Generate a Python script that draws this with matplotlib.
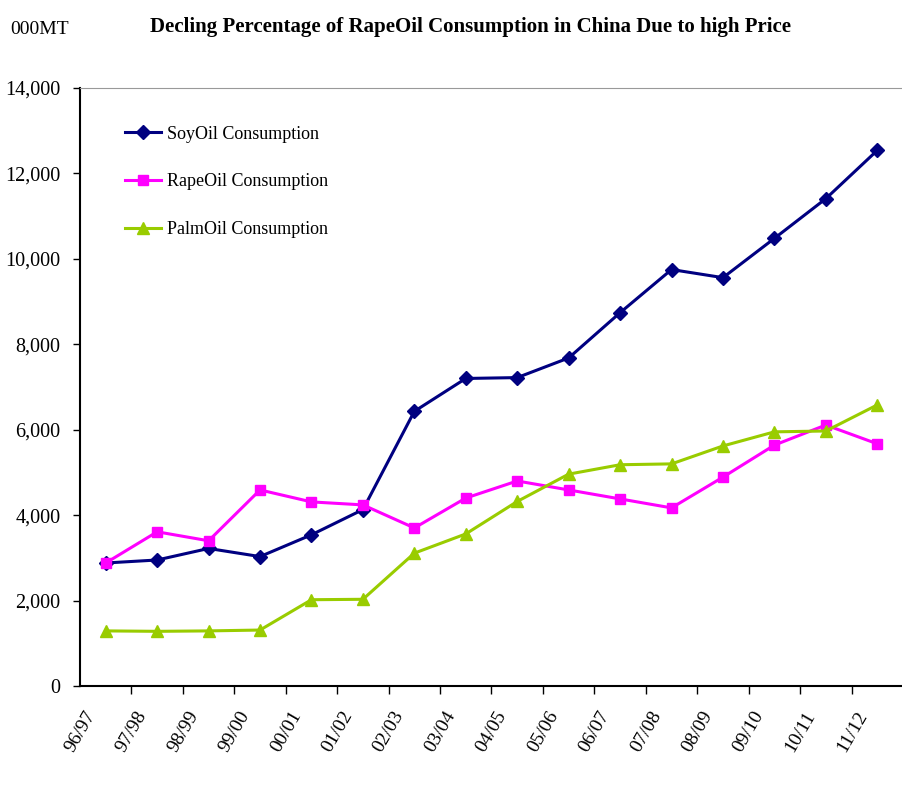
import numpy as np
import matplotlib
matplotlib.use("Agg")
import matplotlib.pyplot as plt
import matplotlib.transforms as mtransforms
from matplotlib.ticker import FuncFormatter

# crop years (x categories)
years = ['96/97', '97/98', '98/99', '99/00', '00/01', '01/02', '02/03', '03/04',
         '04/05', '05/06', '06/07', '07/08', '08/09', '09/10', '10/11', '11/12']

# consumption, 000 MT
soy = [2880, 2950, 3220, 3030, 3540, 4130, 6430, 7200, 7220, 7680, 8740, 9750,
       9560, 10480, 11410, 12540]
rape = [2880, 3610, 3400, 4590, 4310, 4240, 3700, 4400, 4800, 4590, 4380, 4170,
        4890, 5640, 6110, 5670]
palm = [1290, 1280, 1290, 1310, 2020, 2030, 3110, 3560, 4320, 4960, 5180, 5200,
        5620, 5950, 5970, 6580]

plt.rcParams['font.family'] = ['Liberation Serif', 'DejaVu Serif']

fig = plt.figure(figsize=(9.03, 7.85), dpi=100)
ax = fig.add_axes([80/903, 1 - 686/785, 1 - 80/903, (686 - 88)/785])

x = np.arange(len(years))
ax.plot(x, soy, color='#000080', lw=2.2, marker='D', ms=7.5, label='SoyOil Consumption')
ax.plot(x, rape, color='#FF00FF', lw=2.2, marker='s', ms=7.5, label='RapeOil Consumption')
ax.plot(x, palm, color='#99CC00', lw=2.2, marker='^', ms=8.5, label='PalmOil Consumption')

ax.set_xlim(-0.5, len(years) - 0.5)
ax.set_ylim(0, 14000)
ax.set_yticks(np.arange(0, 14001, 2000))
ax.yaxis.set_major_formatter(FuncFormatter(lambda v, p: f'{int(v):,}'))
ax.tick_params(axis='y', direction='out', length=5, width=1, labelsize=14.5, pad=9)

# tick marks at category boundaries, labels at category centers
ax.set_xticks(np.arange(0.5, len(years) - 0.5, 1))
ax.set_xticklabels([])
ax.tick_params(axis='x', which='major', direction='out', length=6, width=1)
ax.set_xticks(x, minor=True)
ax.set_xticklabels(years, minor=True, rotation=60, ha='right', va='top', fontsize=14)
ax.tick_params(axis='x', which='minor', length=0, pad=16)
offset = mtransforms.ScaledTranslation(-7/100, 0, fig.dpi_scale_trans)
for lab in ax.get_xticklabels(minor=True):
    lab.set_transform(lab.get_transform() + offset)

ax.spines['top'].set_color('#999999')
ax.spines['right'].set_visible(False)
ax.spines['left'].set_linewidth(1.5)
ax.spines['bottom'].set_linewidth(1.5)

ax.legend(loc='upper left', bbox_to_anchor=(0.055, 0.937), frameon=False, fontsize=13,
          handlelength=2, handletextpad=0.3, labelspacing=1.7, borderpad=0,
          borderaxespad=0)

fig.text(471/903, 1 - 27/785, 'Decling Percentage of RapeOil Consumption in China Due to high Price',
         ha='center', va='center', fontsize=15, fontweight='bold')
fig.text(10/903, 1 - 30/785, '000MT', ha='left', va='center', fontsize=14)

fig.savefig('out.png', dpi=100)
